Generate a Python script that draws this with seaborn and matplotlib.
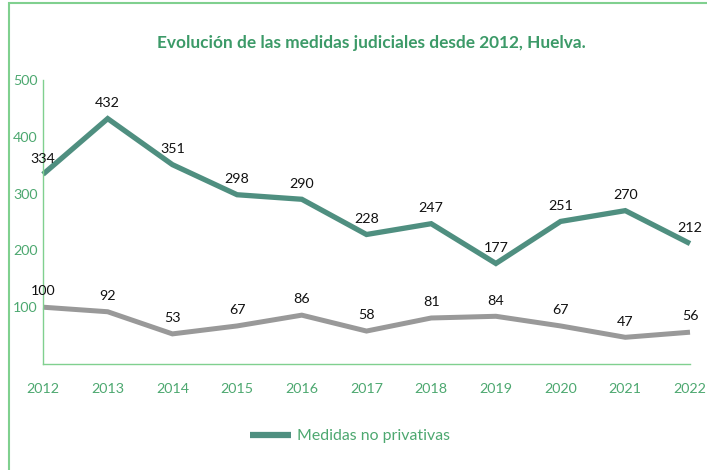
import matplotlib
matplotlib.use("Agg")
import matplotlib.pyplot as plt
import seaborn as sns
import pandas as pd
from matplotlib.patches import Rectangle
from matplotlib.lines import Line2D

years = [2012, 2013, 2014, 2015, 2016, 2017, 2018, 2019, 2020, 2021, 2022]
no_privativas = [334, 432, 351, 298, 290, 228, 247, 177, 251, 270, 212]
privativas = [100, 92, 53, 67, 86, 58, 81, 84, 67, 47, 56]
yticks = [100, 200, 300, 400, 500]
title = "Evolución de las medidas judiciales desde 2012, Huelva."
legend_label = "Medidas no privativas"

sns.set_theme(style="white")
plt.rcParams['font.family'] = ['Lato', 'DejaVu Sans']

TEAL = "#4f8f80"
GRAY = "#999999"
GREEN_TXT = "#4da870"
GREEN_TITLE = "#3c9a68"
GREEN_LINE = "#80d08f"

df = pd.DataFrame({"year": years, "np": no_privativas, "p": privativas})

fig = plt.figure(figsize=(7.07, 4.70), dpi=100)
ax = fig.add_axes([43/707, 1-364/470, (690-43)/707, (364-80)/470])

sns.lineplot(data=df, x="year", y="np", ax=ax, color=TEAL, linewidth=3.8,
             solid_joinstyle="miter", solid_capstyle="butt")
sns.lineplot(data=df, x="year", y="p", ax=ax, color=GRAY, linewidth=3.6,
             solid_joinstyle="miter", solid_capstyle="butt")

for x, y in zip(years, no_privativas):
    ax.annotate(str(y), (x, y), xytext=(0, 7), textcoords="offset points",
                ha="center", va="bottom", fontsize=10.3, color="#111111")
for x, y in zip(years, privativas):
    ax.annotate(str(y), (x, y), xytext=(0, 7), textcoords="offset points",
                ha="center", va="bottom", fontsize=10.3, color="#111111")

ax.set_xlim(2012, 2022)
ax.set_ylim(0, 500)
ax.set_yticks(yticks)
ax.set_yticklabels([str(v) for v in yticks])
ax.set_xticks(years)
ax.set_xticklabels([str(v) for v in years])
ax.tick_params(axis="both", length=0, labelsize=10.3, colors=GREEN_TXT)
ax.tick_params(axis="x", pad=14)
ax.tick_params(axis="y", pad=4)
ax.set_xlabel("")
ax.set_ylabel("")
for s in ["top", "right"]:
    ax.spines[s].set_visible(False)
for s in ["left", "bottom"]:
    ax.spines[s].set_color(GREEN_LINE)
    ax.spines[s].set_linewidth(1.0)
for line in ax.lines:
    line.set_clip_on(False)

fig.text(371/707, 1-43/470, title, ha="center", va="center", fontsize=12.4,
         fontweight="bold", color=GREEN_TITLE)

handle = Line2D([], [], color=TEAL, linewidth=4.5, solid_capstyle="butt")
fig.legend([handle], [legend_label], loc="center", bbox_to_anchor=(350/707, 1-436/470),
           frameon=False, fontsize=11.4, labelcolor=GREEN_TXT, handlelength=2.6,
           handletextpad=0.4)

fig.patches.append(Rectangle((8.5/707, -0.05), 1.0, 1-3.5/470+0.05, transform=fig.transFigure,
                             fill=False, edgecolor=GREEN_LINE, linewidth=1.5))

fig.savefig("out.png", dpi=100)
